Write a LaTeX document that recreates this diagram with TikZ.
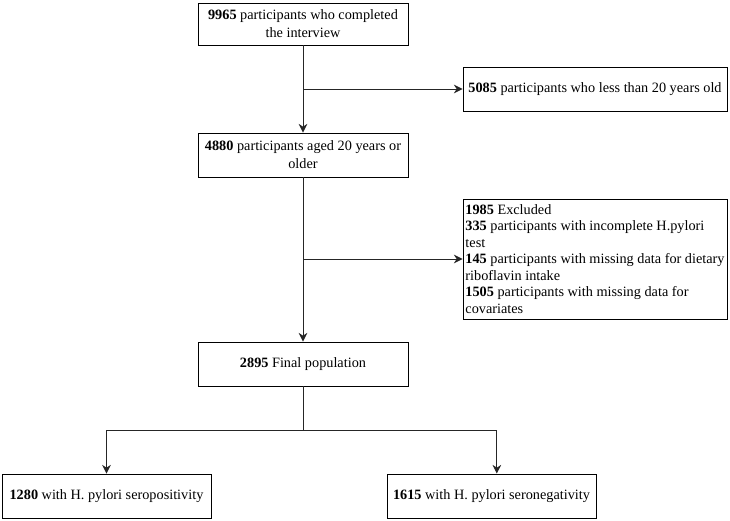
\documentclass[tikz,border=0pt]{standalone}
\usepackage{fontspec}
\setmainfont{Liberation Serif}
\usepackage{tikz}
\usetikzlibrary{arrows.meta}

\begin{document}
\begin{tikzpicture}[>={Stealth[length=6.5pt,width=6.5pt]},x=0.75pt,y=-0.75pt,
  box/.style={draw,line width=0.7pt,minimum width=157.5pt,minimum height=33pt,
    inner sep=2pt,align=center,font=\fontsize{10.7}{13.5}\selectfont},
  listbox/.style={draw,line width=0.7pt,minimum width=198pt,inner xsep=1pt,
    inner ysep=0pt,minimum height=90pt,align=left,
    font=\fontsize{10.7}{12.4}\selectfont},
  link/.style={line width=0.7pt,black!85}]
  \useasboundingbox (0,0) rectangle (730,520);
  % main column
  \node[box,minimum height=31.5pt] (start) at (303,24) {\textbf{9965} participants who completed\\the interview};
  \node[box] (adult) at (303,155) {\textbf{4880} participants aged 20 years or\\older};
  \node[box] (final) at (303,364) {\textbf{2895} Final population};
  % exclusions
  \node[box,minimum width=198pt] (young) at (595,89) {\textbf{5085} participants who less than 20 years old};
  \node[listbox] (excl) at (595,259) {\textbf{1985} Excluded\\
    \textbf{335} participants with incomplete H.pylori\\test\\
    \textbf{145} participants with missing data for dietary\\riboflavin intake\\
    \textbf{1505} participants with missing data for\\covariates};
  % groups
  \node[box,minimum width=156.75pt] (pos) at (106.5,496) {\textbf{1280} with H. pylori seropositivity};
  \node[box,minimum width=156.75pt] (neg) at (491.5,496) {\textbf{1615} with H. pylori seronegativity};
  % branch points
  \coordinate (b1) at (303,89);
  \coordinate (b2) at (303,259);
  \coordinate (b3) at (303,430);
  \draw[link,->] (start) -- (adult);
  \draw[link,->] (b1) -- (young);
  \draw[link,->] (adult) -- (final);
  \draw[link,->] (b2) -- (excl);
  \draw[link] (final) -- (b3);
  \draw[link,->] (b3) -| (pos);
  \draw[link,->] (b3) -| ([xshift=4pt]neg.north);
\end{tikzpicture}
\end{document}
